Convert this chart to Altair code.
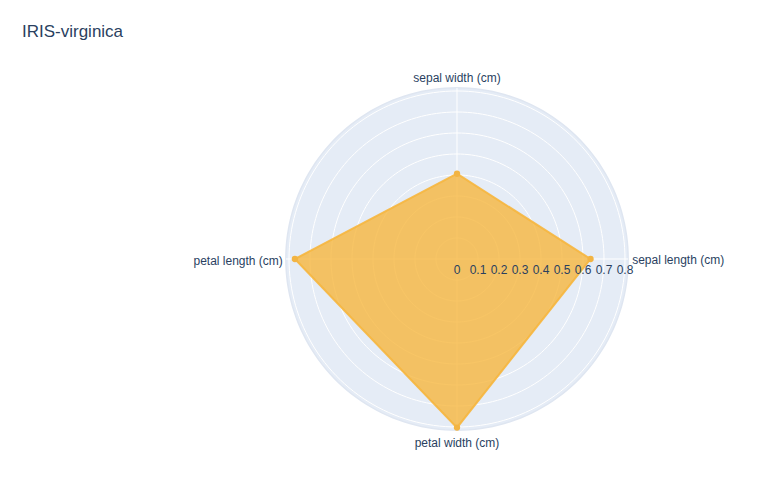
import altair as alt
import pandas as pd
import numpy as np

# ---- data ----
categories = ["sepal length (cm)", "sepal width (cm)", "petal length (cm)", "petal width (cm)"]
values = [0.636, 0.406, 0.772, 0.803]
radial_ticks = [0, 0.1, 0.2, 0.3, 0.4, 0.5, 0.6, 0.7, 0.8]
tick_labels = ["0", "0.1", "0.2", "0.3", "0.4", "0.5", "0.6", "0.7", "0.8"]
grid_rings = [0.1, 0.2, 0.3, 0.4, 0.5, 0.6, 0.7, 0.8]
r_max = 0.815
title_text = "IRIS-virginica"

FONT = "Liberation Sans"
TXT = "#2a3f5f"
BG = "#E5ECF6"
FILL = "#F6B63E"

n = len(categories)
# polygon table (closed)
poly = pd.DataFrame({
    "category": categories + [categories[0]],
    "value": values + [values[0]],
    "idx": list(range(n)) + [0],
    "order": list(range(n + 1)),
})
pts = pd.DataFrame({"category": categories, "value": values, "idx": list(range(n))})

# circle tables
angles = list(range(0, 361, 2))
outer = pd.DataFrame({"deg": angles, "r": r_max})
rings = pd.DataFrame([{"deg": a, "r": r} for r in grid_rings for a in angles])
spokes = pd.DataFrame([{"idx": i, "r": r, "end": e} for i in range(n) for e, r in enumerate([0, r_max])])
ticks = pd.DataFrame({"r": radial_ticks, "label": tick_labels})
labels = pd.DataFrame({"category": categories, "idx": list(range(n)), "r": r_max})

xmin, xmax = -2.1381, 1.4143
ymin, ymax = -1.0905, 1.1952
xs = alt.Scale(domain=[xmin, xmax], nice=False, zero=False)
ys = alt.Scale(domain=[ymin, ymax], nice=False, zero=False)

def X():
    return alt.X("x:Q", scale=xs, axis=None)

def Y():
    return alt.Y("y:Q", scale=ys, axis=None)

circ_calc = dict(x="datum.r * cos(datum.deg * PI / 180)", y="datum.r * sin(datum.deg * PI / 180)")
idx_calc = dict(x="datum.r * cos(datum.idx * 2 * PI / %d)" % n, y="datum.r * sin(datum.idx * 2 * PI / %d)" % n)
val_calc = dict(x="datum.value * cos(datum.idx * 2 * PI / %d)" % n, y="datum.value * sin(datum.idx * 2 * PI / %d)" % n)

bg = alt.Chart(outer).transform_calculate(**circ_calc).mark_line(
    fill=BG, stroke="#dfe6f1", strokeWidth=1.5
).encode(x=X(), y=Y(), order="deg:Q")

ring_lines = alt.Chart(rings).transform_calculate(**circ_calc).mark_line(
    stroke="white", strokeWidth=1
).encode(x=X(), y=Y(), detail="r:N", order="deg:Q")

spoke_lines = alt.Chart(spokes).transform_calculate(**idx_calc).mark_line(
    stroke="white", strokeWidth=1
).encode(x=X(), y=Y(), detail="idx:N", order="end:Q")

area = alt.Chart(poly).transform_calculate(**val_calc).mark_line(
    fill=FILL, fillOpacity=0.8, stroke=FILL, strokeOpacity=0.9, strokeWidth=2
).encode(x=X(), y=Y(), order="order:Q")

points = alt.Chart(pts).transform_calculate(**val_calc).mark_point(
    filled=True, color="#F2B443", size=40, opacity=1
).encode(x=X(), y=Y())

tick_text = alt.Chart(ticks).transform_calculate(x="datum.r", y="0").mark_text(
    font=FONT, fontSize=12, color=TXT, align="center", baseline="middle", dy=11
).encode(x=X(), y=Y(), text="label:N")

def label_layer(i, **kw):
    return alt.Chart(labels).transform_filter("datum.idx == %d" % i).transform_calculate(**idx_calc).mark_text(
        font=FONT, fontSize=12, color=TXT, **kw
    ).encode(x=X(), y=Y(), text="category:N")

lab0 = label_layer(0, align="left", baseline="middle", dx=4, dy=1)
lab1 = label_layer(1, align="center", baseline="middle", dy=-10)
lab2 = label_layer(2, align="right", baseline="middle", dx=-3, dy=2)
lab3 = label_layer(3, align="center", baseline="middle", dy=13)

title = alt.Chart(pd.DataFrame({"t": [title_text]})).mark_text(
    font=FONT, fontSize=17, color=TXT, align="left", baseline="middle"
).encode(x=alt.value(14), y=alt.value(24), text="t:N")

chart = alt.layer(
    bg, ring_lines, spoke_lines, area, points, tick_text, lab0, lab1, lab2, lab3, title
).properties(
    width=746, height=480, padding=0, background="white"
).configure_view(stroke=None)

chart.save("out.html", embed_options={"renderer": "svg", "actions": False})
